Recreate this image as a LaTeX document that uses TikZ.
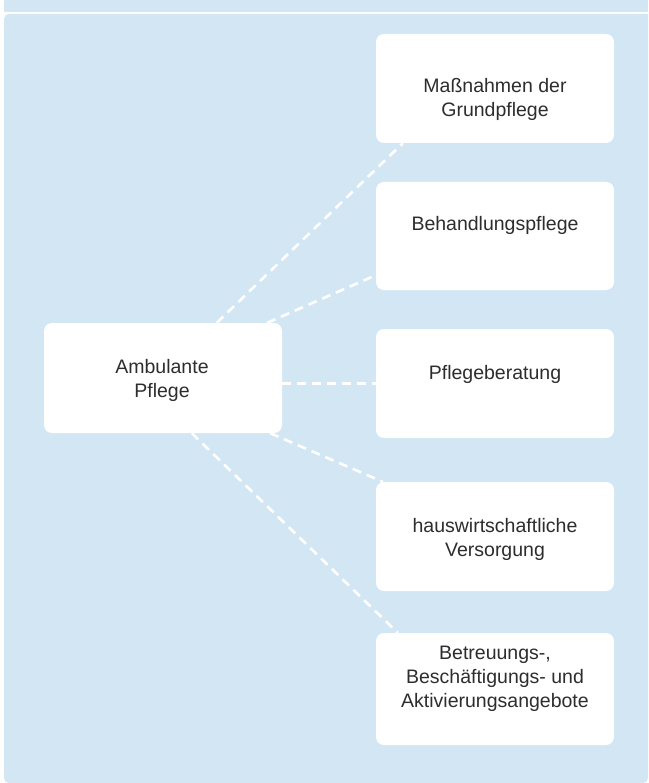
\documentclass[tikz,border=0pt]{standalone}
\usepackage{fontspec}
\setmainfont{Liberation Sans}
\usetikzlibrary{calc}
\definecolor{panelblue}{RGB}{210,230,244}
\definecolor{txt}{RGB}{45,45,45}
\tikzset{
  box/.style={fill=white, draw=none, rounded corners=8pt, minimum width=238pt, inner sep=0pt},
  lbl/.style={anchor=base, align=center, text=txt, font=\fontsize{19.5}{24}\selectfont, inner sep=0pt},
  conn/.style={draw=white, line width=2.6pt, dash pattern=on 9pt off 6pt}
}
\begin{document}
\begin{tikzpicture}[x=1pt,y=-1pt]
\useasboundingbox (0,0) rectangle (648,783);
\fill[panelblue] (4,0) rectangle (648,12);
\fill[panelblue] (648,14) -- (9,14) [rounded corners=5pt] -- (4,14) -- (4,783) -- (648,783) [sharp corners] -- cycle;
\node[box, minimum height=110pt] (amb) at (163,378) {};
\node[box, minimum height=109pt] (b1) at (495,88.5) {};
\node[box, minimum height=108pt] (b2) at (495,236) {};
\node[box, minimum height=109pt] (b3) at (495,383.5) {};
\node[box, minimum height=109pt] (b4) at (495,536.5) {};
\node[box, minimum height=112pt] (b5) at (495,689) {};
\node[lbl] (tamb) at (162,397) {Ambulante\\Pflege};
\node[lbl] (t1) at (495,117) {Maßnahmen der\\Grundpflege};
\node[lbl] (t2) at (495,231) {Behandlungspflege};
\node[lbl] (t3) at (495,379) {Pflegeberatung};
\node[lbl] (t4) at (495,556) {hauswirtschaftliche\\Versorgung};
\node[lbl] (t5) at (495,707) {Betreuungs-,\\Beschäftigungs- und\\Aktivierungsangebote};
\draw[conn] ([xshift=173pt]amb.north west) -- ([xshift=27pt]b1.south west);
\draw[conn] ([xshift=-15pt]amb.north east) -- ([yshift=15pt]b2.south west);
\draw[conn] (amb.east |- b3.west) -- (b3.west);
\draw[conn] ([xshift=-12pt]amb.south east) -- ([xshift=7pt]b4.north west);
\draw[conn] ([xshift=148pt]amb.south west) -- ([xshift=22pt]b5.north west);
\end{tikzpicture}
\end{document}
